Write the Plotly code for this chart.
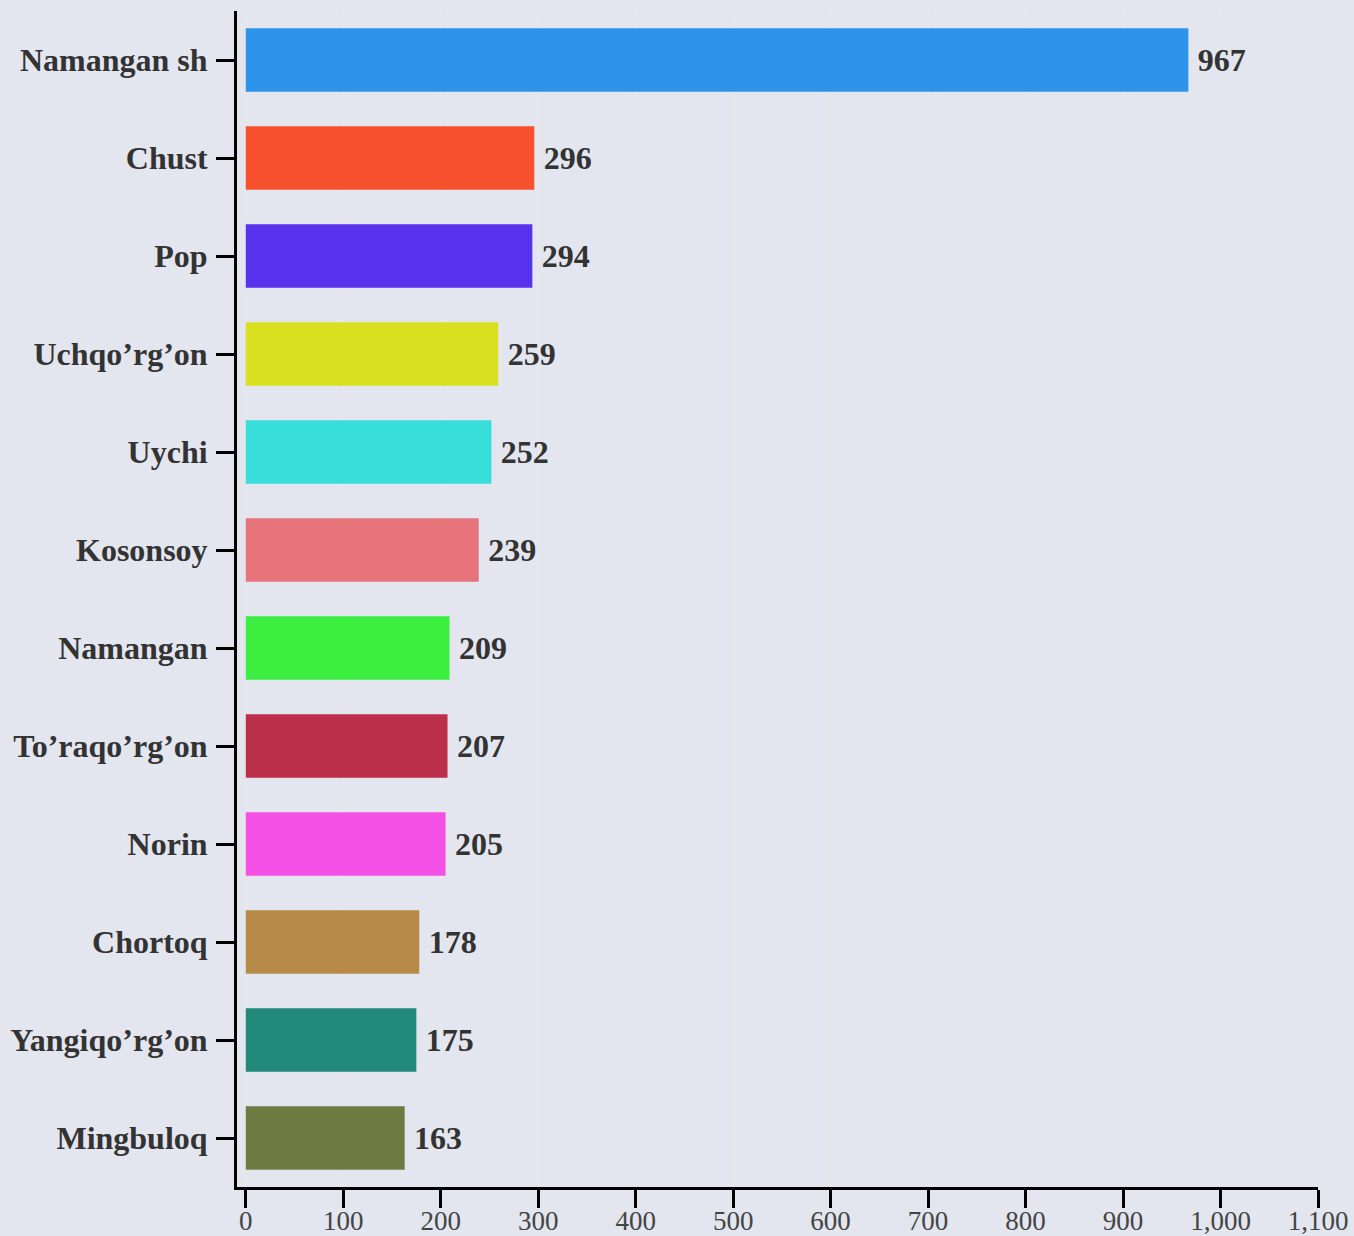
import plotly.graph_objects as go

# data
districts = ['Namangan sh', 'Chust', 'Pop', 'Uchqo’rg’on', 'Uychi', 'Kosonsoy',
             'Namangan', 'To’raqo’rg’on', 'Norin', 'Chortoq', 'Yangiqo’rg’on', 'Mingbuloq']
counts = [967, 296, 294, 259, 252, 239, 209, 207, 205, 178, 175, 163]
bar_colors = ['#2E93EA', '#F7502C', '#5733EE', '#D8E020', '#38DED9', '#E6747A',
              '#3BEE40', '#BC2F4A', '#F550E6', '#B88A47', '#23897A', '#6D7B43']
x_ticks = list(range(0, 1101, 100))

bg = '#E3E6EF'

fig = go.Figure()
fig.add_trace(go.Bar(
    x=counts,
    y=districts,
    orientation='h',
    marker=dict(color=bar_colors, line=dict(width=0)),
    text=[f'\u2009{c}' for c in counts],
    textposition='outside',
    textfont=dict(family='Liberation Serif', size=32, color='#333333', weight='bold'),
    cliponaxis=False,
))

fig.update_layout(
    width=1354,
    height=1236,
    margin=dict(l=237, r=36, t=11, b=49, autoexpand=False),
    paper_bgcolor=bg,
    plot_bgcolor=bg,
    bargap=0.35,
    showlegend=False,
    font=dict(family='Liberation Serif', color='#444444'),
    xaxis=dict(
        range=[-9, 1100],
        tickvals=x_ticks,
        tickformat=',',
        ticks='outside',
        ticklen=18,
        tickwidth=3,
        tickcolor='black',
        showline=True,
        linecolor='black',
        linewidth=3,
        showgrid=True,
        gridcolor='#EBE9E8',
        gridwidth=1,
        zeroline=False,
        automargin=False,
        ticklabelstandoff=-10,
        tickfont=dict(family='Liberation Serif', size=27, color='#444444'),
    ),
    yaxis=dict(
        autorange='reversed',
        ticks='outside',
        ticklen=18,
        tickwidth=3,
        tickcolor='black',
        showline=True,
        linecolor='black',
        linewidth=3,
        showgrid=False,
        automargin=False,
        ticklabelstandoff=2,
        tickfont=dict(family='Liberation Serif', size=32, color='#333333', weight='bold'),
    ),
)

fig.write_html("out.html", config={'displayModeBar': False},
               post_script="document.body.style.margin='0';")
